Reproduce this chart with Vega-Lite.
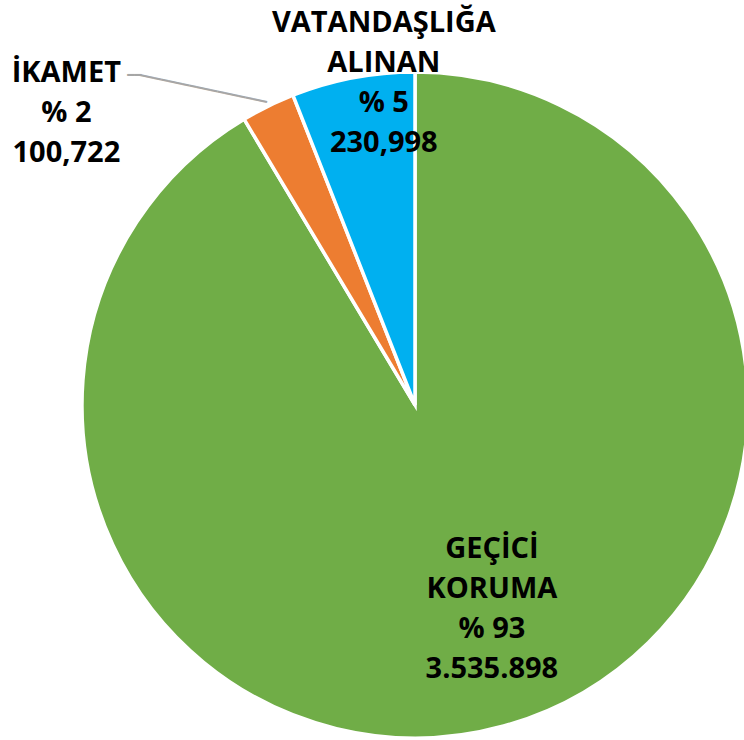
{
  "$schema": "https://vega.github.io/schema/vega-lite/v6.json",
  "autosize": {"type": "none"},
  "width": 658,
  "height": 670,
  "padding": {"left": 86, "top": 70, "right": 0, "bottom": 0},
  "background": "white",
  "view": {"stroke": null},
  "data": {"values": [
    {"kategori": "GEÇİCİ KORUMA", "sira": 1, "deger": 3535898, "etiket": "GEÇİCİ\nKORUMA\n% 93\n3.535.898"},
    {"kategori": "İKAMET", "sira": 2, "deger": 100722, "etiket": "İKAMET\n% 2\n100,722"},
    {"kategori": "VATANDAŞLIĞA ALINAN", "sira": 3, "deger": 230998, "etiket": "VATANDAŞLIĞA\nALINAN\n% 5\n230,998"}
  ]},
  "encoding": {
    "theta": {"field": "deger", "type": "quantitative", "stack": true},
    "order": {"field": "sira", "type": "quantitative", "sort": "ascending"},
    "detail": {"field": "kategori", "type": "nominal"}
  },
  "layer": [
    {
      "mark": {"type": "arc", "outerRadius": 333, "stroke": "white", "strokeWidth": 3.5},
      "encoding": {
        "color": {"field": "kategori", "type": "nominal",
          "scale": {"domain": ["GEÇİCİ KORUMA", "İKAMET", "VATANDAŞLIĞA ALINAN"], "range": ["#70AD47", "#ED7D31", "#00B0F0"]},
          "legend": null}
      }
    },
    {
      "mark": {"type": "text", "radius": 210, "dx": 21, "dy": -58, "font": "Open Sans", "fontWeight": "bold", "fontSize": 29, "lineHeight": 40, "lineBreak": "\n", "baseline": "middle", "align": "center", "color": "black"},
      "encoding": {"text": {"field": "etiket"}, "opacity": {"condition": {"test": "datum.sira === 1", "value": 1}, "value": 0}}
    },
    {
      "mark": {"type": "text", "radius": 328, "dx": 30, "dy": -60, "font": "Open Sans", "fontWeight": "bold", "fontSize": 29, "lineHeight": 40, "lineBreak": "\n", "baseline": "middle", "align": "center", "color": "black"},
      "encoding": {"text": {"field": "etiket"}, "opacity": {"condition": {"test": "datum.sira === 3", "value": 1}, "value": 0}}
    },
    {
      "mark": {"type": "text", "radius": 330, "dx": -203, "dy": -36, "font": "Open Sans", "fontWeight": "bold", "fontSize": 29, "lineHeight": 40, "lineBreak": "\n", "baseline": "middle", "align": "center", "color": "black"},
      "encoding": {"text": {"field": "etiket"}, "opacity": {"condition": {"test": "datum.sira === 2", "value": 1}, "value": 0}}
    },
    {
      "mark": {"type": "text", "radius": 330, "dx": -68.8, "dy": -6.2, "angle": 12, "font": "DejaVu Sans Mono", "fontSize": 12, "baseline": "middle", "align": "center", "color": "#A6A6A6", "text": "━━━━━━━━━━━━━━━━━━"},
      "encoding": {"opacity": {"condition": {"test": "datum.sira === 2", "value": 1}, "value": 0}}
    },
    {
      "mark": {"type": "text", "radius": 330, "dx": -135, "dy": -34, "font": "DejaVu Sans Mono", "fontSize": 12, "baseline": "middle", "align": "center", "color": "#A6A6A6", "text": "━━"},
      "encoding": {"opacity": {"condition": {"test": "datum.sira === 2", "value": 1}, "value": 0}}
    }
  ]
}
